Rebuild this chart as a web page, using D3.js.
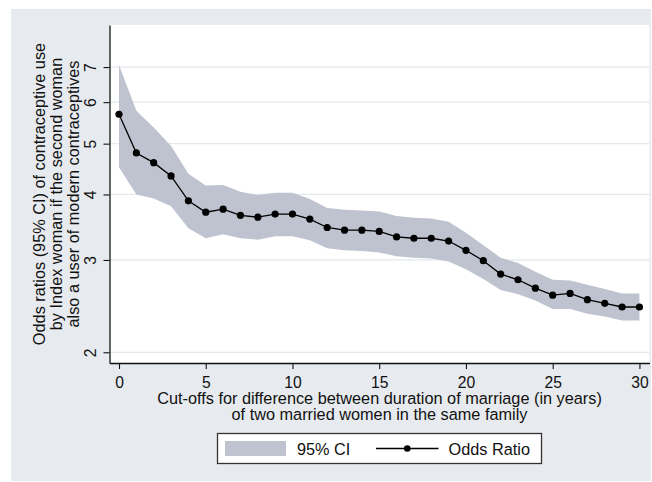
<!DOCTYPE html>
<html>
<head>
<meta charset="utf-8">
<script src="https://cdn.jsdelivr.net/npm/d3@7"></script>
<style>
  body { margin: 0; background: #fff; }
  text { font-family: "Liberation Sans", Arial, sans-serif; fill: #111; }
</style>
</head>
<body>
<div id="chart"></div>
<script>
// cut-off values (years) and estimates
const cutoffs = d3.range(0, 31);
const oddsRatio = [5.69, 4.80, 4.60, 4.34, 3.89, 3.70, 3.75, 3.65, 3.62, 3.67, 3.67,
  3.59, 3.46, 3.42, 3.42, 3.40, 3.32, 3.30, 3.30, 3.26, 3.13,
  2.99, 2.82, 2.75, 2.65, 2.57, 2.59, 2.52, 2.48, 2.44, 2.44];
const ciUpper = [7.06, 5.78, 5.37, 4.95, 4.38, 4.16, 4.17, 4.05, 3.99, 4.03, 4.03,
  3.92, 3.77, 3.74, 3.73, 3.71, 3.64, 3.61, 3.60, 3.55, 3.38,
  3.20, 3.03, 2.96, 2.85, 2.75, 2.74, 2.69, 2.64, 2.59, 2.59];
const ciLower = [4.51, 4.00, 3.93, 3.80, 3.45, 3.30, 3.36, 3.30, 3.28, 3.33, 3.33,
  3.27, 3.16, 3.13, 3.12, 3.10, 3.05, 3.03, 3.02, 2.98, 2.88,
  2.76, 2.63, 2.58, 2.51, 2.42, 2.42, 2.37, 2.34, 2.30, 2.30];
const xTicks = [0, 5, 10, 15, 20, 25, 30];
const yTicks = [2, 3, 4, 5, 6, 7];
const yTitle = ["Odds ratios (95% CI) of contraceptive use",
  "by Index woman if the second woman",
  "also a user of modern contraceptives"];
const xTitle = ["Cut-offs for difference between duration of marriage (in years)",
  "of two married women in the same family"];
const legendLabels = ["95% CI", "Odds Ratio"];

const width = 652, height = 482;
const plot = { left: 109.5, right: 649.5, top: 25, bottom: 363 };
const bandColor = "#bfc3cf";
const fontSize = "16.3px";
const tickFont = "15.7px";

const data = cutoffs.map((c, i) => ({ c, or: oddsRatio[i], lo: ciLower[i], hi: ciUpper[i] }));

const svg = d3.select("#chart").append("svg")
  .attr("width", width)
  .attr("height", height);

// outer graph region
svg.append("rect")
  .attr("x", 11).attr("y", 9)
  .attr("width", 640).attr("height", 472)
  .attr("fill", "#e7ebef");

// plot region
svg.append("rect")
  .attr("x", plot.left).attr("y", plot.top)
  .attr("width", plot.right - plot.left).attr("height", plot.bottom - plot.top)
  .attr("fill", "#fff");

const x = d3.scaleLinear().domain([-0.548, 30.58]).range([plot.left, plot.right]);
const y = d3.scaleLog().domain([1.908, 8.42]).range([plot.bottom, plot.top]);

// grid lines
svg.append("g").selectAll("line")
  .data(yTicks)
  .join("line")
  .attr("x1", plot.left).attr("x2", plot.right)
  .attr("y1", (d) => y(d)).attr("y2", (d) => y(d))
  .attr("stroke", "#e3e9ee")
  .attr("stroke-width", 1.2);

// confidence band
const area = d3.area()
  .x((d) => x(d.c))
  .y0((d) => y(d.lo))
  .y1((d) => y(d.hi));
svg.append("path")
  .datum(data)
  .attr("d", area)
  .attr("fill", bandColor);

// odds ratio line and markers
const line = d3.line().x((d) => x(d.c)).y((d) => y(d.or));
svg.append("path")
  .datum(data)
  .attr("d", line)
  .attr("fill", "none")
  .attr("stroke", "#000")
  .attr("stroke-width", 1.3);
svg.append("g").selectAll("circle")
  .data(data)
  .join("circle")
  .attr("cx", (d) => x(d.c))
  .attr("cy", (d) => y(d.or))
  .attr("r", 3.6)
  .attr("fill", "#000");

// axes
const xAxis = svg.append("g")
  .attr("transform", `translate(0,${plot.bottom})`)
  .call(d3.axisBottom(x).tickValues(xTicks).tickSize(6).tickSizeOuter(0));
const yAxis = svg.append("g")
  .attr("transform", `translate(${plot.left},0)`)
  .call(d3.axisLeft(y).tickValues(yTicks).tickFormat(d3.format("d")).tickSize(6).tickSizeOuter(0));

[xAxis, yAxis].forEach((g) => {
  g.select(".domain").attr("stroke", "#111").attr("stroke-width", 1.3);
  g.selectAll(".tick line").attr("stroke", "#111").attr("stroke-width", 1.1);
  g.selectAll(".tick text").style("font-size", tickFont).attr("fill", "#111")
    .style("font-family", "'Liberation Sans', Arial, sans-serif");
});
xAxis.selectAll(".tick text").attr("y", 25).attr("dy", null);
yAxis.selectAll(".tick text")
  .attr("x", null).attr("dy", null)
  .attr("text-anchor", "middle")
  .attr("dominant-baseline", "central")
  .attr("transform", "translate(-19,0) rotate(-90)");

// axis titles
const yMid = (plot.top + plot.bottom) / 2;
svg.append("g").selectAll("text")
  .data(yTitle)
  .join("text")
  .attr("transform", (d, i) => `translate(${39 + i * 17},${yMid}) rotate(-90)`)
  .attr("text-anchor", "middle")
  .attr("dominant-baseline", "central")
  .style("font-size", fontSize)
  .text((d) => d);

const xMid = (plot.left + plot.right) / 2;
svg.append("g").selectAll("text")
  .data(xTitle)
  .join("text")
  .attr("x", xMid)
  .attr("y", (d, i) => 404 + i * 16.3)
  .attr("text-anchor", "middle")
  .style("font-size", fontSize)
  .text((d) => d);

// legend
const legend = svg.append("g");
legend.append("rect")
  .attr("x", 217.5).attr("y", 433.5)
  .attr("width", 324).attr("height", 30)
  .attr("fill", "#fff")
  .attr("stroke", "#333")
  .attr("stroke-width", 1.3);
legend.append("rect")
  .attr("x", 225).attr("y", 441)
  .attr("width", 61).attr("height", 15)
  .attr("fill", bandColor);
legend.append("text")
  .attr("x", 297).attr("y", 455)
  .style("font-size", fontSize)
  .text(legendLabels[0]);
legend.append("line")
  .attr("x1", 376).attr("x2", 438.5)
  .attr("y1", 448.5).attr("y2", 448.5)
  .attr("stroke", "#000").attr("stroke-width", 1.3);
legend.append("circle")
  .attr("cx", 407.3).attr("cy", 448.5).attr("r", 3.3)
  .attr("fill", "#000");
legend.append("text")
  .attr("x", 448.5).attr("y", 455)
  .style("font-size", fontSize)
  .text(legendLabels[1]);
</script>
</body>
</html>
